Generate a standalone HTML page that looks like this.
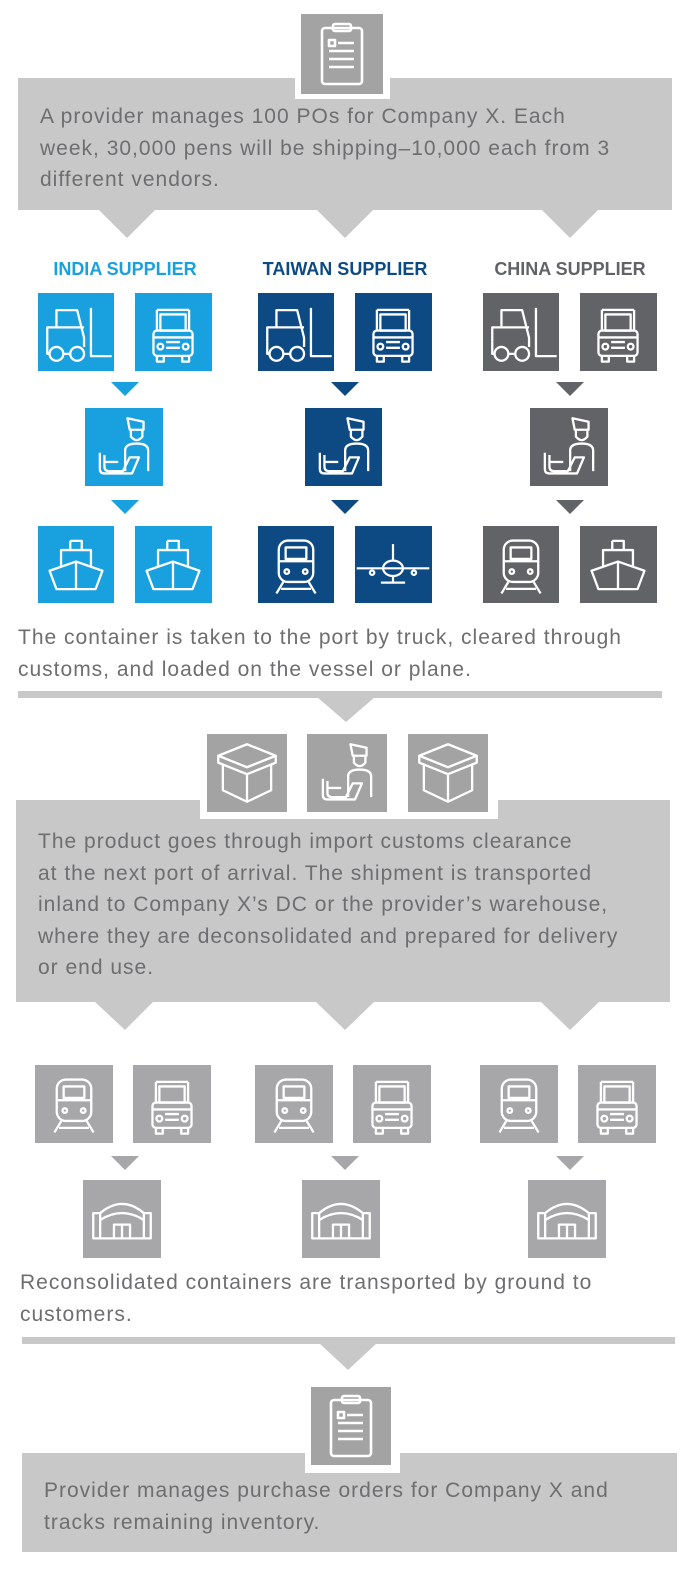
<!DOCTYPE html>
<html><head><meta charset="utf-8"><style>
body{margin:0;width:700px;height:1591px;background:#fff;position:relative;overflow:hidden;font-family:"Liberation Sans",sans-serif}
svg{position:absolute;left:0;top:0}
.t{position:absolute;color:#6d6e70;font-size:21px;line-height:31.5px;letter-spacing:1px;white-space:nowrap}
.h{position:absolute;font-weight:bold;font-size:18px;text-align:center;width:220px;top:259px}
</style></head><body>
<svg width="700" height="1591" viewBox="0 0 700 1591">
<defs>
<g id="fork" fill="none" stroke="#fff" stroke-width="2" stroke-linejoin="round"><g transform="translate(39 39) scale(1.15) translate(-39 -39)">
<path d="M14 47 V35 H22 V20 H40 L46 44 V52"/><path d="M52 18 V60 H70"/><path d="M22 35 H46"/>
<circle cx="22" cy="58" r="6"/><circle cx="40" cy="58" r="6"/><path d="M14 47 V58 H16 M28 58 H34"/></g></g>
<g id="truck" fill="none" stroke="#fff" stroke-width="2" stroke-linejoin="round"><g transform="translate(39 41) scale(1.15) translate(-39 -41)">
<path d="M25 38 V20 M53 38 V20 M25 20 H53"/><rect x="28" y="24" width="22" height="14"/>
<rect x="22" y="38" width="34" height="22" rx="3"/><circle cx="28" cy="52" r="2.5"/><circle cx="50" cy="52" r="2.5"/>
<path d="M33 48 H45 M33 53 H45 M25 60 V65 H31 V60 M47 60 V65 H53 V60 M22 44 H56"/></g></g>
<g id="cust" fill="none" stroke="#fff" stroke-width="2" stroke-linejoin="round"><g transform="translate(39 39) scale(1.15) translate(-39 -39)">
<path d="M42 14 L56 17 V24 H44 Z"/><path d="M45 24 V30 Q50 36 55 30 V24"/><path d="M40 60 V42 Q40 36 50 36 Q60 36 60 42 V60"/>
<path d="M18 44 V58 Q18 62 22 62 H46 L52 48 H44 L38 60 H26 Q22 60 22 56 V46"/><path d="M22 52 H34"/></g></g>
<g id="ship" fill="none" stroke="#fff" stroke-width="2" stroke-linejoin="round"><g transform="translate(39 39) scale(1.15) translate(-39 -39)">
<path d="M34 18 H44 V26 M34 18 V26"/><path d="M26 40 V26 H52 V40"/><path d="M16 44 L39 36 L62 44 L56 60 H22 Z"/><path d="M39 36 V60"/></g></g>
<g id="train" fill="none" stroke="#fff" stroke-width="2" stroke-linejoin="round"><g transform="translate(39 41) scale(1.15) translate(-39 -41)">
<rect x="24" y="18" width="30" height="36" rx="8"/><path d="M24 36 H54 M30 24 H48 V34 H30 Z"/><circle cx="31" cy="45" r="2"/><circle cx="47" cy="45" r="2"/>
<path d="M28 54 L22 64 M50 54 L56 64 M26 60 H52"/></g></g>
<g id="plane" fill="none" stroke="#fff" stroke-width="2" stroke-linejoin="round"><g transform="translate(39 39) scale(1.1) translate(-39 -39)">
<path d="M6 42 H72"/><ellipse cx="39" cy="42" rx="9" ry="7"/><path d="M39 20 V35 M39 49 V55 M28 55 H50"/><circle cx="20" cy="46" r="2"/><circle cx="58" cy="46" r="2"/></g></g>
<g id="box" fill="none" stroke="#fff" stroke-width="2" stroke-linejoin="round"><g transform="translate(39 39) scale(1.15) translate(-39 -39)">
<path d="M39 14 L64 24 V30 L39 40 L14 30 V24 Z"/><path d="M18 31 V54 L39 64 L60 54 V31 M39 40 V64"/><path d="M14 24 L39 34 L64 24"/></g></g>
<g id="ware" fill="none" stroke="#fff" stroke-width="2" stroke-linejoin="round"><g transform="translate(39 40) scale(1.15) translate(-39 -40)">
<path d="M14 34 H20 V56 H14 Z M58 34 H64 V56 H58 Z"/><path d="M20 34 Q39 18 58 34"/><path d="M20 40 Q39 28 58 40"/><path d="M20 56 H58"/><path d="M32 56 V44 H46 V56 M39 44 V56"/></g></g>
<g id="clip" fill="none" stroke="#fff" stroke-width="2.6" stroke-linejoin="round">
<rect x="20" y="14" width="40" height="56" rx="3"/><rect x="31" y="10" width="18" height="7" rx="2"/>
<rect x="27" y="26" width="6" height="6"/><path d="M36 29 H52 M27 37 H52 M27 45 H52 M27 53 H52"/></g>
</defs>
<rect x="18" y="78" width="654" height="132" fill="#c8c8c8"/>
<polygon points="99,210 155,210 127,238" fill="#c8c8c8"/><polygon points="317,210 373,210 345,238" fill="#c8c8c8"/><polygon points="542,210 598,210 570,238" fill="#c8c8c8"/>
<rect x="295" y="9" width="95" height="90" fill="#fff"/><rect x="301" y="14" width="82" height="80" fill="#a3a3a3"/>
<use href="#clip" x="302" y="14"/>
<rect x="38" y="293" width="76" height="78" fill="#19a0de"/><use href="#fork" x="37" y="293"/>
<rect x="135" y="293" width="77" height="78" fill="#19a0de"/><use href="#truck" x="134" y="293"/>
<rect x="258" y="293" width="76" height="78" fill="#0d4a84"/><use href="#fork" x="257" y="293"/>
<rect x="355" y="293" width="77" height="78" fill="#0d4a84"/><use href="#truck" x="354" y="293"/>
<rect x="483" y="293" width="76" height="78" fill="#616366"/><use href="#fork" x="482" y="293"/>
<rect x="580" y="293" width="77" height="78" fill="#616366"/><use href="#truck" x="579" y="293"/>
<polygon points="111,382 139,382 125,396" fill="#19a0de"/><polygon points="331,382 359,382 345,396" fill="#0d4a84"/><polygon points="556,382 584,382 570,396" fill="#616366"/>
<rect x="85" y="408" width="78" height="78" fill="#19a0de"/><use href="#cust" x="85" y="408"/>
<rect x="305" y="408" width="77" height="78" fill="#0d4a84"/><use href="#cust" x="305" y="408"/>
<rect x="530" y="408" width="78" height="78" fill="#616366"/><use href="#cust" x="530" y="408"/>
<polygon points="111,500 139,500 125,514" fill="#19a0de"/><polygon points="331,500 359,500 345,514" fill="#0d4a84"/><polygon points="556,500 584,500 570,514" fill="#616366"/>
<rect x="38" y="526" width="76" height="77" fill="#19a0de"/><use href="#ship" x="37" y="526"/>
<rect x="135" y="526" width="77" height="77" fill="#19a0de"/><use href="#ship" x="134" y="526"/>
<rect x="258" y="526" width="76" height="77" fill="#0d4a84"/><use href="#train" x="257" y="526"/>
<rect x="355" y="526" width="77" height="77" fill="#0d4a84"/><use href="#plane" x="354" y="526"/>
<rect x="483" y="526" width="76" height="77" fill="#616366"/><use href="#train" x="482" y="526"/>
<rect x="580" y="526" width="77" height="77" fill="#616366"/><use href="#ship" x="579" y="526"/>
<rect x="18" y="691" width="644" height="7" fill="#c8c8c8"/><polygon points="317,697 375,697 346,722" fill="#c8c8c8"/>
<rect x="16" y="800" width="654" height="202" fill="#c8c8c8"/>
<polygon points="95,1002 153,1002 125,1030" fill="#c8c8c8"/><polygon points="316,1002 374,1002 345,1030" fill="#c8c8c8"/><polygon points="541,1002 599,1002 570,1030" fill="#c8c8c8"/>
<rect x="200" y="729" width="298" height="90" fill="#fff"/>
<rect x="207" y="734" width="80" height="78" fill="#a3a3a3"/><use href="#box" x="208" y="734"/>
<rect x="307" y="734" width="80" height="78" fill="#a3a3a3"/><use href="#cust" x="308" y="734"/>
<rect x="408" y="734" width="80" height="78" fill="#a3a3a3"/><use href="#box" x="409" y="734"/>
<g fill="#a7a7a9">
<rect x="35" y="1065" width="78" height="78"/><rect x="133" y="1065" width="78" height="78"/>
<rect x="255" y="1065" width="78" height="78"/><rect x="353" y="1065" width="78" height="78"/>
<rect x="480" y="1065" width="78" height="78"/><rect x="578" y="1065" width="78" height="78"/>
<polygon points="111,1156 139,1156 125,1170"/><polygon points="331,1156 359,1156 345,1170"/><polygon points="556,1156 584,1156 570,1170"/>
<rect x="83" y="1180" width="78" height="78"/><rect x="302" y="1180" width="78" height="78"/><rect x="528" y="1180" width="78" height="78"/>
</g>
<use href="#train" x="35" y="1065"/><use href="#truck" x="133" y="1065"/>
<use href="#train" x="255" y="1065"/><use href="#truck" x="353" y="1065"/>
<use href="#train" x="480" y="1065"/><use href="#truck" x="578" y="1065"/>
<use href="#ware" x="83" y="1180"/><use href="#ware" x="302" y="1180"/><use href="#ware" x="528" y="1180"/>
<rect x="22" y="1337" width="653" height="7" fill="#c8c8c8"/><polygon points="319,1343 377,1343 348,1370" fill="#c8c8c8"/>
<rect x="22" y="1453" width="655" height="99" fill="#c8c8c8"/>
<rect x="305" y="1381" width="95" height="92" fill="#fff"/><rect x="311" y="1387" width="80" height="78" fill="#a3a3a3"/>
<use href="#clip" x="311" y="1386"/>
</svg>
<div class="t" style="left:40px;top:101px">A provider manages 100 POs for Company X. Each<br>week, 30,000 pens will be shipping–10,000 each from 3<br>different vendors.</div>
<div class="h" style="left:15px;color:#19a0de">INDIA SUPPLIER</div>
<div class="h" style="left:235px;color:#0d4a84">TAIWAN SUPPLIER</div>
<div class="h" style="left:460px;color:#616366">CHINA SUPPLIER</div>
<div class="t" style="left:18px;top:622px">The container is taken to the port by truck, cleared through<br>customs, and loaded on the vessel or plane.</div>
<div class="t" style="left:38px;top:826px">The product goes through import customs clearance<br>at the next port of arrival. The shipment is transported<br>inland to Company X’s DC or the provider’s warehouse,<br>where they are deconsolidated and prepared for delivery<br>or end use.</div>
<div class="t" style="left:20px;top:1267px">Reconsolidated containers are transported by ground to<br>customers.</div>
<div class="t" style="left:44px;top:1475px">Provider manages purchase orders for Company X and<br>tracks remaining inventory.</div>
</body></html>
